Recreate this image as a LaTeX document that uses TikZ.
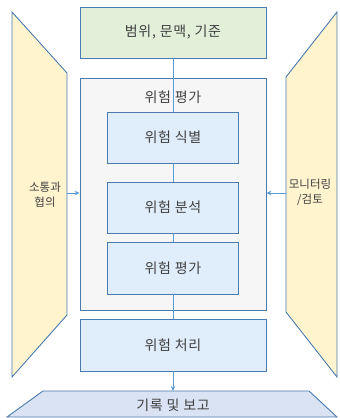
\documentclass[tikz,border=0pt]{standalone}
\usepackage{fontspec}
\setmainfont{Noto Sans CJK KR}
\newfontfamily\mainkr[LetterSpace=5]{Noto Sans CJK KR}
\usetikzlibrary{arrows.meta}
\definecolor{bordc}{HTML}{4A7AB0}
\definecolor{linec}{HTML}{5B9BD5}
\definecolor{txtc}{HTML}{404040}
\definecolor{greenf}{HTML}{E2F0D9}
\definecolor{grayf}{HTML}{F6F6F6}
\definecolor{bluef}{HTML}{E0EDFA}
\definecolor{bluebot}{HTML}{DAE3F3}
\definecolor{yellowf}{HTML}{FFF4CE}
\begin{document}
\begin{tikzpicture}[x=1pt,y=-1pt,
  mainfont/.style={font=\mainkr\fontsize{14}{16}\selectfont},
  box/.style={draw=bordc,line width=0.9pt,text=txtc,mainfont,inner sep=0pt},
  conn/.style={draw=linec,line width=1pt},
  arr/.style={conn,-{Stealth[length=5pt,width=4.5pt]}},
  sidelbl/.style={text=txtc,font=\fontsize{11.5}{15}\selectfont,align=center,inner sep=0pt}]
\useasboundingbox (0,0) rectangle (340,418);
% side trapezoids
\draw[bordc,line width=0.9pt,fill=yellowf] (12,12) -- (67,73) -- (67,315) -- (12,377) -- cycle;
\draw[bordc,line width=0.9pt,fill=yellowf] (337,12) -- (286,77) -- (286,312) -- (337,377) -- cycle;
\node[sidelbl] (comm) at (45,195) {소통과\\협의};
\node[sidelbl] (mon) at (310,192) {모니터링\\/검토};
\coordinate (lt) at (67,193);
\coordinate (rt) at (286,193);
% bottom trapezoid
\draw[bordc,line width=0.9pt,fill=bluebot] (43,391) -- (309,391) -- (337,417) -- (7,417) -- cycle;
\coordinate (bt) at (173,391);
\node[text=txtc,mainfont] (rec) at (173,405) {기록 및 보고};
% main boxes
\node[box,fill=greenf,minimum width=186pt,minimum height=51pt] (scope) at (173,32.5) {범위, 문맥, 기준};
\node[box,fill=grayf,minimum width=186pt,minimum height=232pt] (assess) at (173,194) {};
\node[text=txtc,mainfont] (atitle) at (173,97) {위험 평가};
\node[box,fill=bluef,minimum width=131pt,minimum height=51pt] (ident) at (173,137.5) {위험 식별};
\node[box,fill=bluef,minimum width=131pt,minimum height=51pt] (anal) at (173,207.5) {위험 분석};
\node[box,fill=bluef,minimum width=131pt,minimum height=52pt] (eval) at (173,268) {위험 평가};
\node[box,fill=bluef,minimum width=186pt,minimum height=52pt] (treat) at (173,345) {위험 처리};
% connectors
\draw[conn] (scope.south) -- (assess.north);
\draw[conn] (assess.north) -- (ident.north);
\draw[conn] (ident.south) -- (anal.north);
\draw[conn] (anal.south) -- (eval.north);
\draw[conn] (eval.south) -- (assess.south);
\draw[conn] (assess.south) -- (treat.north);
\draw[arr] (treat.south) -- (bt);
\draw[arr] (lt) -- (assess.west |- lt);
\draw[arr] (rt) -- (assess.east |- rt);
\end{tikzpicture}
\end{document}
